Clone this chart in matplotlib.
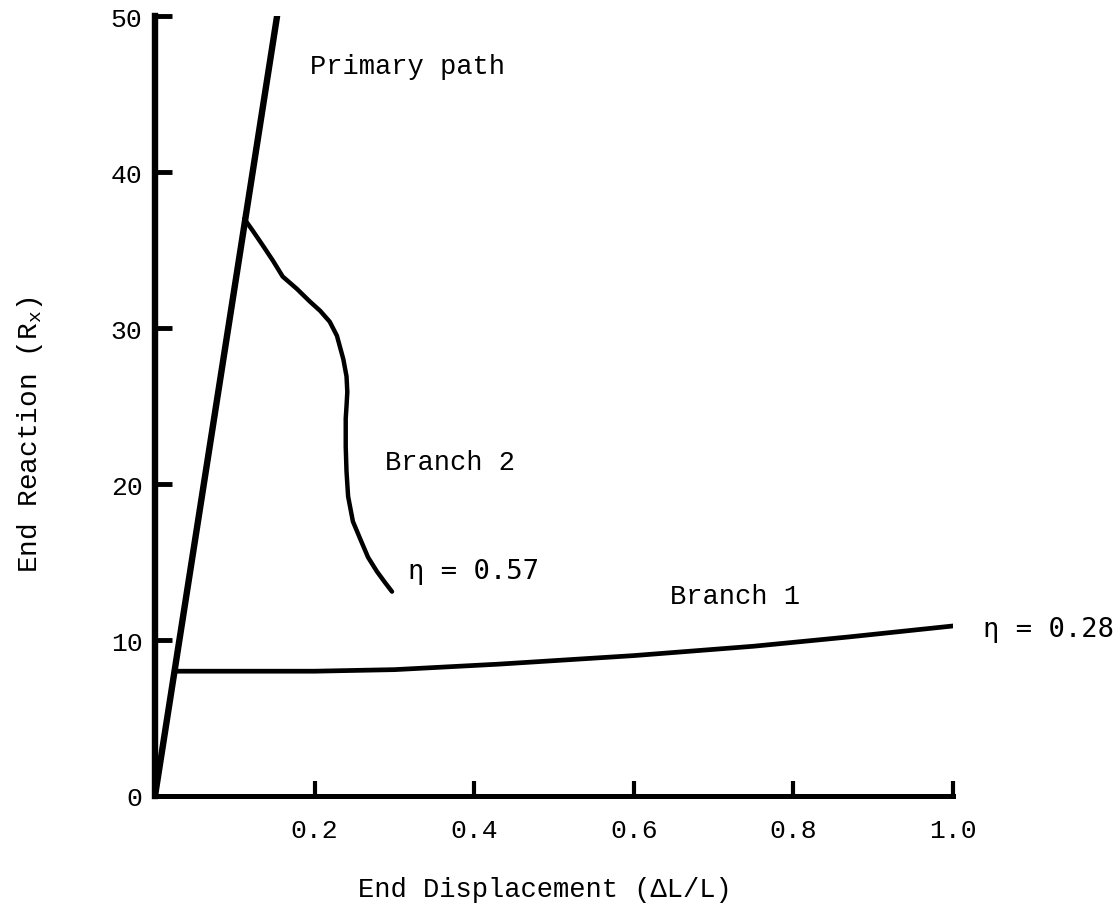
import matplotlib
matplotlib.use("Agg")
import matplotlib.pyplot as plt

# Data
primary_x = [0.0, 0.153]
primary_y = [0.0, 50.0]

branch1_x = [0.025, 0.10, 0.20, 0.30, 0.43, 0.60, 0.75, 0.87, 1.0]
branch1_y = [8.0, 8.0, 8.0, 8.1, 8.45, 9.0, 9.6, 10.2, 10.9]

branch2_x = [0.112, 0.123, 0.135, 0.148, 0.160, 0.178, 0.194, 0.207, 0.219, 0.228,
             0.236, 0.240, 0.241, 0.240, 0.239, 0.239, 0.240, 0.242, 0.248, 0.257,
             0.267, 0.278, 0.288, 0.297]
branch2_y = [37.0, 36.2, 35.3, 34.3, 33.3, 32.5, 31.7, 31.1, 30.4, 29.5,
             28.0, 26.9, 25.9, 25.0, 24.2, 22.4, 20.8, 19.2, 17.6, 16.5,
             15.3, 14.4, 13.7, 13.1]

xticks = [0.2, 0.4, 0.6, 0.8, 1.0]
xtick_labels = ["0.2", "0.4", "0.6", "0.8", "1.0"]
yticks = [0, 10, 20, 30, 40, 50]
ytick_labels = ["0", "10", "20", "30", "40", "50"]

FONT = "Liberation Mono"
plt.rcParams["font.family"] = [FONT, "DejaVu Sans Mono", "DejaVu Sans"]

fig = plt.figure(figsize=(11.19, 9.2), dpi=100)
ax = fig.add_axes([0.1385, 0.1337, 0.8517 - 0.1385, 0.9815 - 0.1337])
ax.set_xlim(0, 1.0)
ax.set_ylim(0, 50)

ax.plot(primary_x, primary_y, color="black", lw=4.6, solid_capstyle="round", zorder=3)
ax.plot(branch1_x, branch1_y, color="black", lw=3.4, solid_capstyle="round",
        solid_joinstyle="round", zorder=3)
ax.plot(branch2_x, branch2_y, color="black", lw=3.2, solid_capstyle="round",
        solid_joinstyle="round", zorder=3)

for s in ["top", "right"]:
    ax.spines[s].set_visible(False)
ax.spines["left"].set_linewidth(4.6)
ax.spines["bottom"].set_linewidth(3.6)

ax.set_xticks(xticks)
ax.set_xticklabels(xtick_labels)
ax.set_yticks(yticks)
ax.set_yticklabels(ytick_labels)
ax.tick_params(axis="x", direction="in", length=11, width=3, pad=16, labelsize=19)
ax.tick_params(axis="y", direction="in", length=12, width=3.5, pad=9, labelsize=19)
ax.yaxis.get_major_ticks()[0].tick1line.set_visible(False)

ax.text(0.194, 46.8, "Primary path", fontsize=19.5, va="center", ha="left")
ax.text(0.288, 21.4, "Branch 2", fontsize=19.5, va="center", ha="left")
ax.text(0.317, 14.4, "\u03b7 = 0.57", fontsize=19.5, va="center", ha="left",
        family=["DejaVu Sans Mono", FONT])
ax.text(0.645, 12.8, "Branch 1", fontsize=19.5, va="center", ha="left")
ax.text(1.038, 10.7, "\u03b7 = 0.28", fontsize=19.5, va="center", ha="left",
        family=["DejaVu Sans Mono", FONT], clip_on=False)

fig.text(545 / 1119, 1 - 890 / 920, "End Displacement (\u0394L/L)", fontsize=19.5,
         ha="center", va="center")
fig.text(30 / 1119, 1 - 435 / 920, r"End Reaction (R$_{\mathregular{x}}$)", fontsize=20,
         ha="center", va="center", rotation=90)

fig.savefig("out.png", dpi=100)
